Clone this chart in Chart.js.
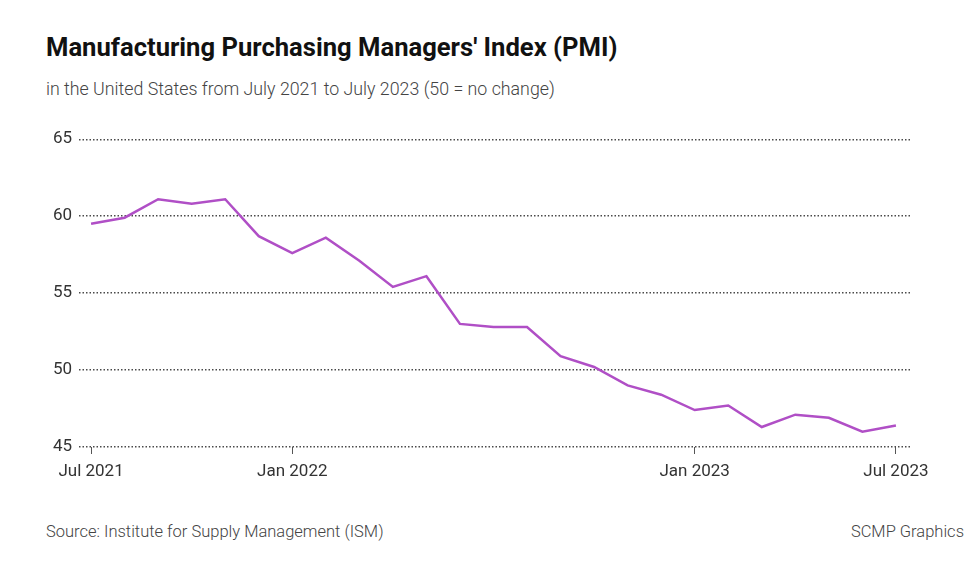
<!DOCTYPE html>
<html>
<head>
<meta charset="utf-8">
<script src="https://cdn.jsdelivr.net/npm/chart.js@4"></script>
<style>
  html, body { margin: 0; padding: 0; background: #fff; }
  body { width: 975px; height: 571px; position: relative; overflow: hidden; font-family: Roboto, sans-serif; }
  div.t { position: absolute; line-height: 1; white-space: nowrap; }
  #title { left: 46px; top: 35px; font-size: 25.6px; font-weight: 700; color: #111; }
  #subtitle { left: 46px; top: 80px; font-size: 17.8px; font-weight: 300; color: #444; }
  #source { left: 46px; top: 524px; font-size: 16.5px; font-weight: 300; color: #444; }
  #credit { right: 11px; top: 524px; font-size: 16.5px; font-weight: 300; color: #444; }
  #wrap { position: absolute; left: 0; top: 122px; width: 975px; height: 365px; }
</style>
</head>
<body>
<div class="t" id="title">Manufacturing Purchasing Managers' Index (PMI)</div>
<div class="t" id="subtitle">in the United States from July 2021 to July 2023 (50 = no change)</div>
<div id="wrap"><canvas id="c"></canvas></div>
<div class="t" id="source">Source: Institute for Supply Management (ISM)</div>
<div class="t" id="credit">SCMP Graphics</div>
<script>
const months = ["Jul 2021","Aug 2021","Sep 2021","Oct 2021","Nov 2021","Dec 2021",
  "Jan 2022","Feb 2022","Mar 2022","Apr 2022","May 2022","Jun 2022","Jul 2022","Aug 2022",
  "Sep 2022","Oct 2022","Nov 2022","Dec 2022","Jan 2023","Feb 2023","Mar 2023","Apr 2023",
  "May 2023","Jun 2023","Jul 2023"];
const pmi = [59.5, 59.9, 61.1, 60.8, 61.1, 58.7, 57.6, 58.6, 57.1, 55.4, 56.1, 53.0, 52.8,
  52.8, 50.9, 50.2, 49.0, 48.4, 47.4, 47.7, 46.3, 47.1, 46.9, 46.0, 46.4];
const xTickIndexes = [0, 6, 18, 24];
const xTickLabels = ["Jul 2021", "Jan 2022", "Jan 2023", "Jul 2023"];
const yTicks = [45, 50, 55, 60, 65];

const points = pmi.map((v, i) => ({ x: i, y: v }));

new Chart(document.getElementById('c'), {
  type: 'line',
  data: {
    datasets: [{
      data: points,
      borderColor: '#b04fc6',
      borderWidth: 2.5,
      pointRadius: 0,
      tension: 0,
      fill: false
    }]
  },
  options: {
    responsive: true,
    maintainAspectRatio: false,
    animation: false,
    layout: { padding: { top: 14, right: 65, left: 0, bottom: 0 } },
    plugins: { legend: { display: false }, tooltip: { enabled: false } },
    scales: {
      x: {
        type: 'linear',
        min: -0.36,
        max: 24.42,
        afterBuildTicks: (axis) => { axis.ticks = xTickIndexes.map(v => ({ value: v })); },
        afterFit: (axis) => { axis.height = 40; },
        border: { display: false },
        grid: { drawOnChartArea: false, drawTicks: true, tickLength: 7, color: '#555', lineWidth: 1 },
        ticks: {
          autoSkip: false,
          maxRotation: 0,
          padding: 8,
          color: '#333',
          font: { family: 'Roboto', size: 17 },
          callback: (v) => { const k = xTickIndexes.indexOf(v); return k >= 0 ? xTickLabels[k] : ''; }
        }
      },
      y: {
        min: 45,
        max: 65,
        afterBuildTicks: (axis) => { axis.ticks = yTicks.map(v => ({ value: v })); },
        afterFit: (axis) => { axis.width = 79; },
        border: { display: false, dash: [1.5, 2] },
        grid: { drawTicks: false, color: '#4a4a4a', lineWidth: 1.4 },
        ticks: {
          padding: 7,
          color: '#333',
          font: { family: 'Roboto', size: 17 }
        }
      }
    }
  }
});
</script>
</body>
</html>
